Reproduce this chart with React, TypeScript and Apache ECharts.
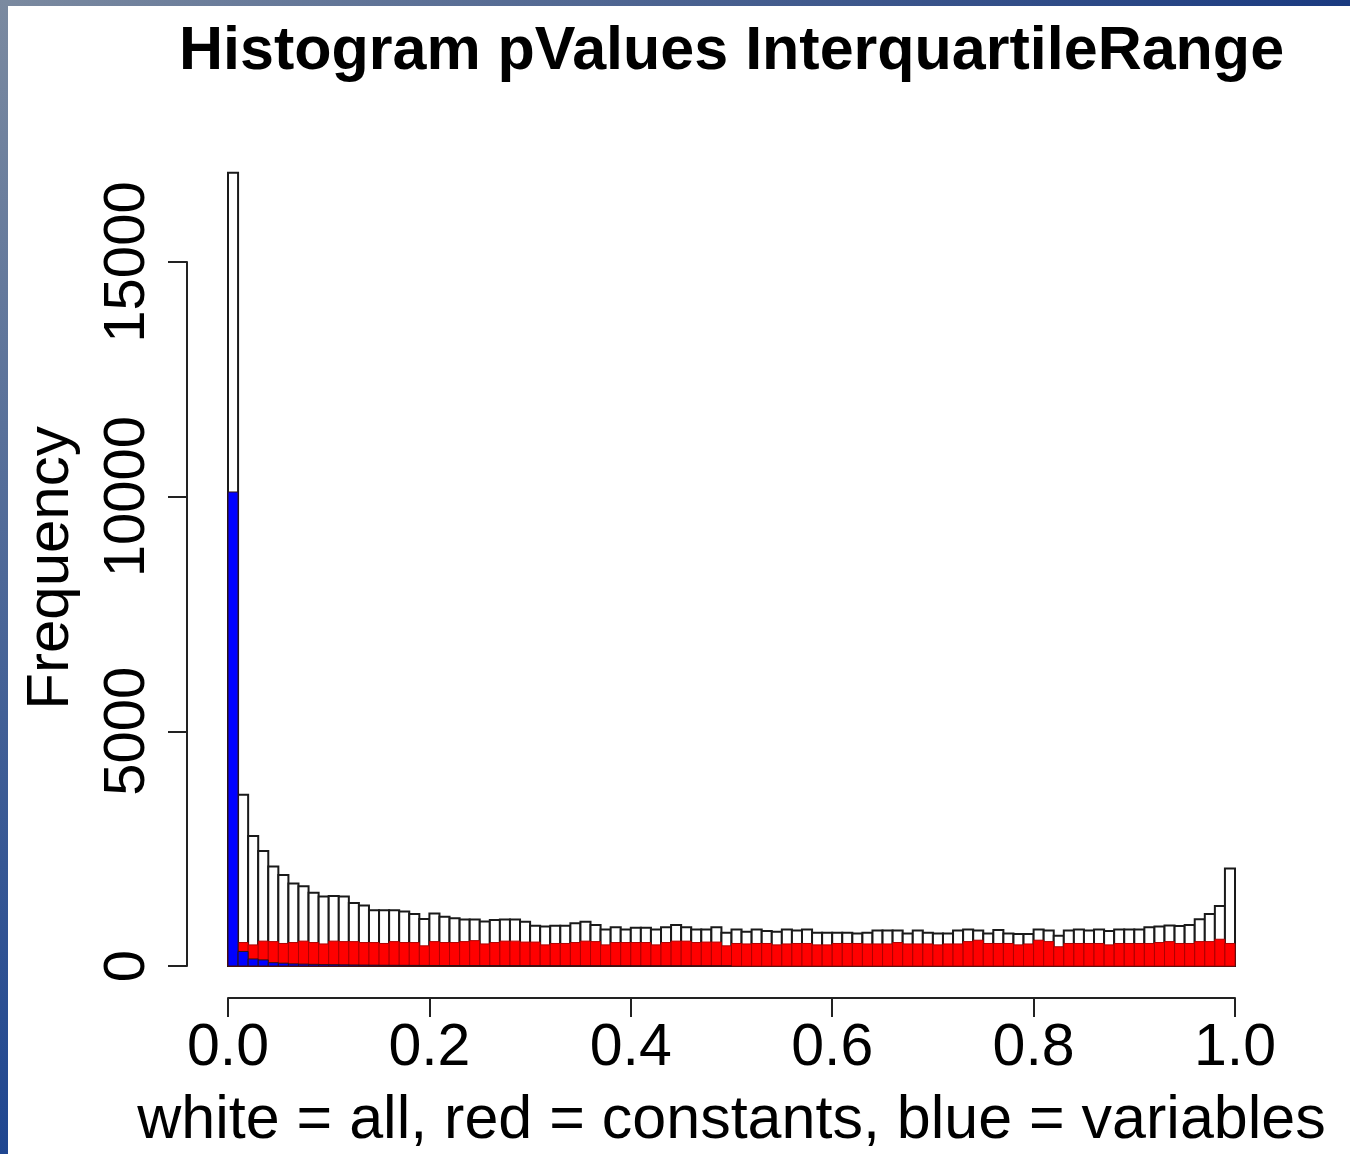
import React, { useEffect, useRef } from "react";
import * as echarts from "echarts";

// Histogram counts, 100 bins of width 0.01 from 0 to 1
const whiteAll = [
  16900, 3650, 2770, 2450, 2120, 1940, 1760, 1700, 1560, 1480,
  1490, 1480, 1340, 1290, 1190, 1190, 1190, 1160, 1110, 1000,
  1120, 1050, 1020, 990, 990, 950, 980, 990, 990, 945,
  860, 840, 860, 860, 910, 945, 875, 780, 825, 780,
  815, 815, 780, 825, 875, 825, 780, 780, 825, 710,
  780, 730, 780, 745, 730, 780, 755, 780, 710, 710,
  710, 710, 695, 710, 755, 755, 755, 695, 755, 710,
  695, 695, 755, 780, 755, 695, 765, 695, 680, 680,
  780, 755, 645, 755, 780, 755, 780, 745, 780, 780,
  780, 825, 840, 865, 850, 875, 995, 1110, 1280, 2080,
];
const redConstants = [
  340, 500, 450, 530, 520, 480, 500, 530, 500, 470,
  530, 520, 520, 500, 500, 480, 520, 500, 500, 430,
  520, 500, 500, 520, 540, 470, 500, 530, 530, 510,
  510, 450, 480, 480, 500, 530, 520, 450, 500, 500,
  500, 500, 450, 500, 530, 530, 500, 510, 510, 430,
  480, 470, 480, 480, 450, 470, 480, 480, 450, 450,
  480, 480, 480, 470, 470, 470, 500, 470, 470, 470,
  450, 470, 470, 520, 550, 480, 480, 480, 450, 470,
  550, 520, 410, 480, 480, 480, 480, 450, 480, 480,
  480, 480, 500, 520, 480, 480, 520, 520, 570, 480,
];
const blueVariables = [
  10100, 310, 150, 130, 70, 60, 45, 40, 35, 30,
  28, 25, 22, 20, 18, 16, 15, 14, 13, 12,
  11, 10, 9, 8, 8, 7, 6, 6, 5, 5,
  4, 4, 3, 3, 3, 2, 2, 2, 2, 2,
  1, 1, 1, 1, 1, 1, 1, 1, 1, 1,
  0, 0, 0, 0, 0, 0, 0, 0, 0, 0,
  0, 0, 0, 0, 0, 0, 0, 0, 0, 0,
  0, 0, 0, 0, 0, 0, 0, 0, 0, 0,
  0, 0, 0, 0, 0, 0, 0, 0, 0, 0,
  0, 0, 0, 0, 0, 0, 0, 0, 0, 0,
];
const binWidth = 0.01;
const xTicks = [0, 0.2, 0.4, 0.6, 0.8, 1.0];
const yTicks = [0, 5000, 10000, 15000];

const titleText = "Histogram pValues InterquartileRange";
const xLabel = "white = all, red = constants, blue = variables";
const yLabel = "Frequency";

const FONT = "'Liberation Sans', Arial, Helvetica, sans-serif";

function toBins(counts: number[]) {
  return counts.map((c, i) => [i * binWidth, (i + 1) * binWidth, c]);
}

function makeRender(fill: string, stroke: string, lw: number) {
  return (params: any, api: any) => {
    const x0 = api.value(0);
    const x1 = api.value(1);
    const h = api.value(2);
    if (!(h > 0)) return null;
    const p0 = api.coord([x0, 0]);
    const p1 = api.coord([x1, h]);
    return {
      type: "rect",
      shape: { x: p0[0], y: p1[1], width: p1[0] - p0[0], height: p0[1] - p1[1] },
      style: { fill, stroke, lineWidth: lw },
    };
  };
}

export default function App() {
  const ref = useRef<HTMLDivElement>(null);
  useEffect(() => {
    if (!ref.current) return;
    const chart = echarts.init(ref.current, null, { renderer: "svg" });
    const axisColor = "#222";
    chart.setOption({
      animation: false,
      backgroundColor: "#ffffff",
      title: {
        text: titleText,
        left: 179,
        top: 17,
        padding: 0,
        textStyle: { fontFamily: FONT, fontSize: 61, fontWeight: "bold", color: "#000" },
      },
      grid: { left: 228, right: 115, top: 262, bottom: 188, containLabel: false },
      xAxis: {
        type: "value",
        min: xTicks[0],
        max: xTicks[xTicks.length - 1],
        interval: 0.2,
        offset: 32,
        splitLine: { show: false },
        axisLine: { show: true, onZero: false, lineStyle: { color: axisColor, width: 2 } },
        axisTick: { show: true, length: 19, lineStyle: { color: axisColor, width: 2 } },
        axisLabel: {
          fontFamily: FONT,
          fontSize: 59,
          color: "#000",
          margin: 17,
          formatter: (v: number) => v.toFixed(1),
        },
        name: xLabel,
        nameLocation: "middle",
        nameGap: 88,
        nameTextStyle: { fontFamily: FONT, fontSize: 61, color: "#000" },
      },
      yAxis: {
        type: "value",
        min: yTicks[0],
        max: yTicks[yTicks.length - 1],
        interval: 5000,
        offset: 41,
        splitLine: { show: false },
        axisLine: { show: true, onZero: false, lineStyle: { color: axisColor, width: 2 } },
        axisTick: { show: true, length: 19, lineStyle: { color: axisColor, width: 2 } },
        axisLabel: {
          fontFamily: FONT,
          fontSize: 58,
          color: "#000",
          rotate: 90,
          margin: 35,
          formatter: (v: number) => String(v),
        },
      },
      graphic: [
        {
          type: "rect",
          shape: { x: 0, y: 0, width: 1350, height: 6 },
          style: {
            fill: new echarts.graphic.LinearGradient(0, 0, 1, 0, [
              { offset: 0, color: "#7b8aa0" },
              { offset: 1, color: "#1a3a80" },
            ]),
          },
          z: 100,
        },
        {
          type: "rect",
          shape: { x: 0, y: 0, width: 8, height: 1154 },
          style: {
            fill: new echarts.graphic.LinearGradient(0, 0, 0, 1, [
              { offset: 0, color: "#7b8aa0" },
              { offset: 1, color: "#1f4690" },
            ]),
          },
          z: 100,
        },
        {
          type: "text",
          x: 47,
          y: 568,
          rotation: Math.PI / 2,
          style: {
            text: yLabel,
            fontFamily: FONT,
            fontSize: 60,
            fill: "#000",
            textAlign: "center",
            textVerticalAlign: "middle",
          },
        },
      ],
      series: [
        {
          type: "custom",
          name: "all",
          clip: false,
          renderItem: makeRender("#ffffff", "#1a1a1a", 2),
          encode: { x: [0, 1], y: 2 },
          data: toBins(whiteAll),
          z: 1,
        },
        {
          type: "custom",
          name: "constants",
          clip: false,
          renderItem: makeRender("#ff0000", "#b00000", 1),
          encode: { x: [0, 1], y: 2 },
          data: toBins(redConstants),
          z: 2,
        },
        {
          type: "custom",
          name: "variables",
          clip: false,
          renderItem: makeRender("#0000ff", "#331111", 1),
          encode: { x: [0, 1], y: 2 },
          data: toBins(blueVariables),
          z: 3,
        },
      ],
    });
    return () => chart.dispose();
  }, []);
  return (
    <div
      ref={ref}
      style={{ position: "absolute", left: 0, top: 0, width: 1350, height: 1154 }}
    />
  );
}
